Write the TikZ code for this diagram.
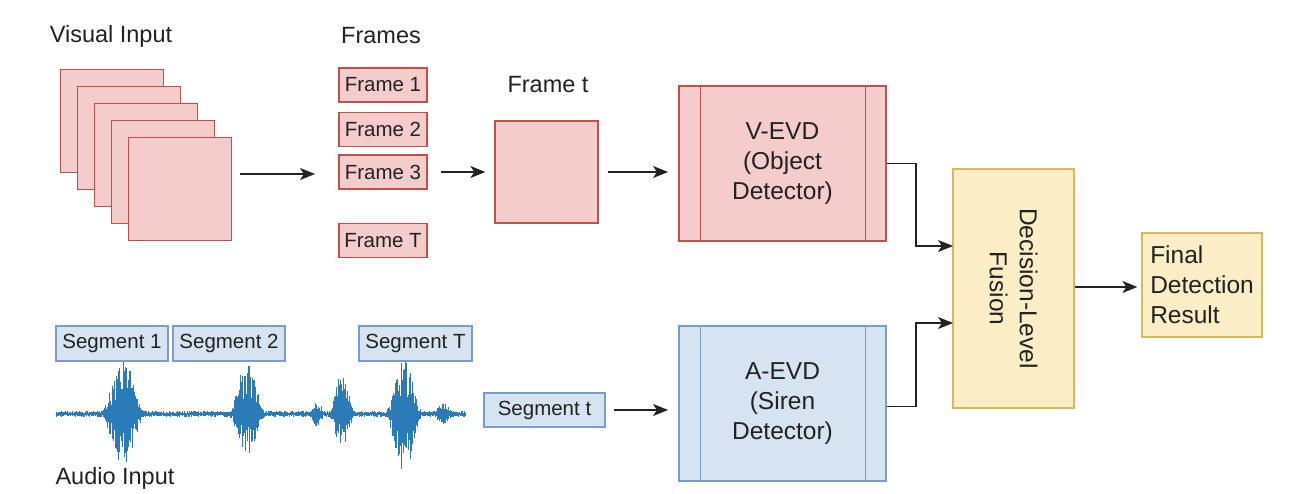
\documentclass[tikz,border=0pt]{standalone}
\usepackage{fontspec}
\setmainfont{Liberation Sans}
\usetikzlibrary{arrows.meta}
\definecolor{pinkf}{HTML}{F4CCCB}
\definecolor{pinkd}{HTML}{C0504D}
\definecolor{bluef}{HTML}{D6E3F0}
\definecolor{blued}{HTML}{7A9CC8}
\definecolor{yelf}{HTML}{FBEDC5}
\definecolor{yeld}{HTML}{D9B85C}
\definecolor{wave}{HTML}{2C7BB9}
\definecolor{txt}{HTML}{222222}
\begin{document}
\begin{tikzpicture}[x=1pt,y=-1pt,
  pbox/.style={draw=pinkd, fill=pinkf, line width=1.3pt, inner sep=0pt},
  bbox/.style={draw=blued, fill=bluef, line width=1.3pt, inner sep=0pt},
  ybox/.style={draw=yeld, fill=yelf, line width=1.3pt, inner sep=0pt},
  lbl/.style={font=\fontsize{23.5}{28}\selectfont, text=txt, inner sep=0pt},
  small/.style={font=\fontsize{20.5}{24}\selectfont, text=txt},
  big/.style={font=\fontsize{24.5}{30}\selectfont, text=txt, align=center},
  conn/.style={line width=1.4pt, draw=txt, -{Stealth[length=15pt,width=12pt,inset=4pt]}},
  declare function={bmp(\t,\c,\w)=max(0,1-((\t-\c)/\w)^2);
                    bc(\t,\c,\w)=bmp(\t,\c,\w)*bmp(\t,\c,\w);}
]
\useasboundingbox (0,0) rectangle (1303,494);
\fill[white] (0,0) rectangle (1303,494);

% labels
\node[lbl] (vin) at (111,36) {Visual Input};
\node[lbl] (frl) at (381,36) {Frames};
\node[lbl] (ftl) at (548,85) {Frame t};
\node[lbl] (ain) at (115,478) {Audio Input};

% stacked visual input
\foreach \i in {1,...,5}{
  \node[pbox, minimum width=103pt, minimum height=103pt] (s\i) at ({112+17*(\i-1)},{121+17*(\i-1)}) {};
}
\coordinate (a1s) at (240,174);
\coordinate (a1e) at (315,174);
\draw[conn] (a1s) -- (a1e);

% frames
\node[pbox, small, minimum width=88pt, minimum height=34pt] (f1) at (383,85) {Frame 1};
\node[pbox, small, minimum width=88pt, minimum height=34pt] (f2) at (383,129.5) {Frame 2};
\node[pbox, small, minimum width=88pt, minimum height=34pt] (f3) at (383,172) {Frame 3};
\node[pbox, small, minimum width=88pt, minimum height=34pt] (fT) at (383,240.5) {Frame T};

\node[pbox, minimum width=103pt, minimum height=102pt] (ft) at (546.5,172) {};
\draw[conn] ([xshift=13pt]f3.east) -- ([xshift=-9pt]ft.west);

% V-EVD
\node[pbox, big, minimum width=207pt, minimum height=155pt] (vevd) at (782.5,163.5) {V-EVD\\(Object\\Detector)};
\draw[pinkd, line width=1.3pt] ([xshift=22pt]vevd.north west) -- ([xshift=22pt]vevd.south west);
\draw[pinkd, line width=1.3pt] ([xshift=-21pt]vevd.north east) -- ([xshift=-21pt]vevd.south east);
\coordinate (vin1) at (668,172);
\draw[conn] ([xshift=9pt]ft.east) -- (vin1);

% A-EVD
\node[bbox, big, minimum width=207pt, minimum height=155pt] (aevd) at (782.5,403.5) {A-EVD\\(Siren\\Detector)};
\draw[blued, line width=1.3pt] ([xshift=22pt]aevd.north west) -- ([xshift=22pt]aevd.south west);
\draw[blued, line width=1.3pt] ([xshift=-21pt]aevd.north east) -- ([xshift=-21pt]aevd.south east);

% waveform
\pgfmathsetseed{11}
\foreach \x in {56,56.7,...,466}{
  \pgfmathsetmacro\tp{(3+51*bc(\x,123,22)+49*bc(\x,247,18)+10*bmp(\x,317,6)+39*bc(\x,342,13)+52*bc(\x,404,18)+9*bc(\x,443,9))*(0.3+0.7*rnd)}
  \pgfmathsetmacro\bm{(3+48*bc(\x,123,22)+38*bc(\x,247,18)+10*bmp(\x,317,6)+31*bc(\x,342,13)+61*bc(\x,404,18)+9*bc(\x,443,9))*(0.3+0.7*rnd)}
  \draw[wave, line width=0.9pt] (\x,{414-\tp}) -- (\x,{414+\bm});
}

% segments
\node[bbox, small, minimum width=112pt, minimum height=35pt] (g1) at (112,343.5) {Segment 1};
\node[bbox, small, minimum width=112pt, minimum height=35pt] (g2) at (229,343.5) {Segment 2};
\node[bbox, small, minimum width=113pt, minimum height=35pt] (gT) at (415.5,343.5) {Segment T};
\node[bbox, small, minimum width=121pt, minimum height=34pt] (gt) at (544.5,410) {Segment t};
\coordinate (ain1) at (668,410);
\draw[conn] ([xshift=8pt]gt.east) -- (ain1);

% fusion
\node[ybox, minimum width=121pt, minimum height=239pt] (fus) at (1013.5,288.5) {};
\node[big, rotate=-90, inner sep=0pt] (fust) at (fus.center) {Decision-Level\\Fusion};
\coordinate (fin1) at (953,246);
\coordinate (fin2) at (953,323);
\draw[conn] (vevd.east) -| (916,246) -- (fin1);
\draw[conn] ([yshift=-3pt]aevd.east) -| (916,323) -- (fin2);

% final
\node[ybox, big, align=left, minimum width=120pt, minimum height=104pt] (fin) at (1202,285) {Final\\Detection\\Result};
\draw[conn] (fus.east |- 0,287) -- ([xshift=-4pt]fin.west |- 0,287);
\end{tikzpicture}
\end{document}
